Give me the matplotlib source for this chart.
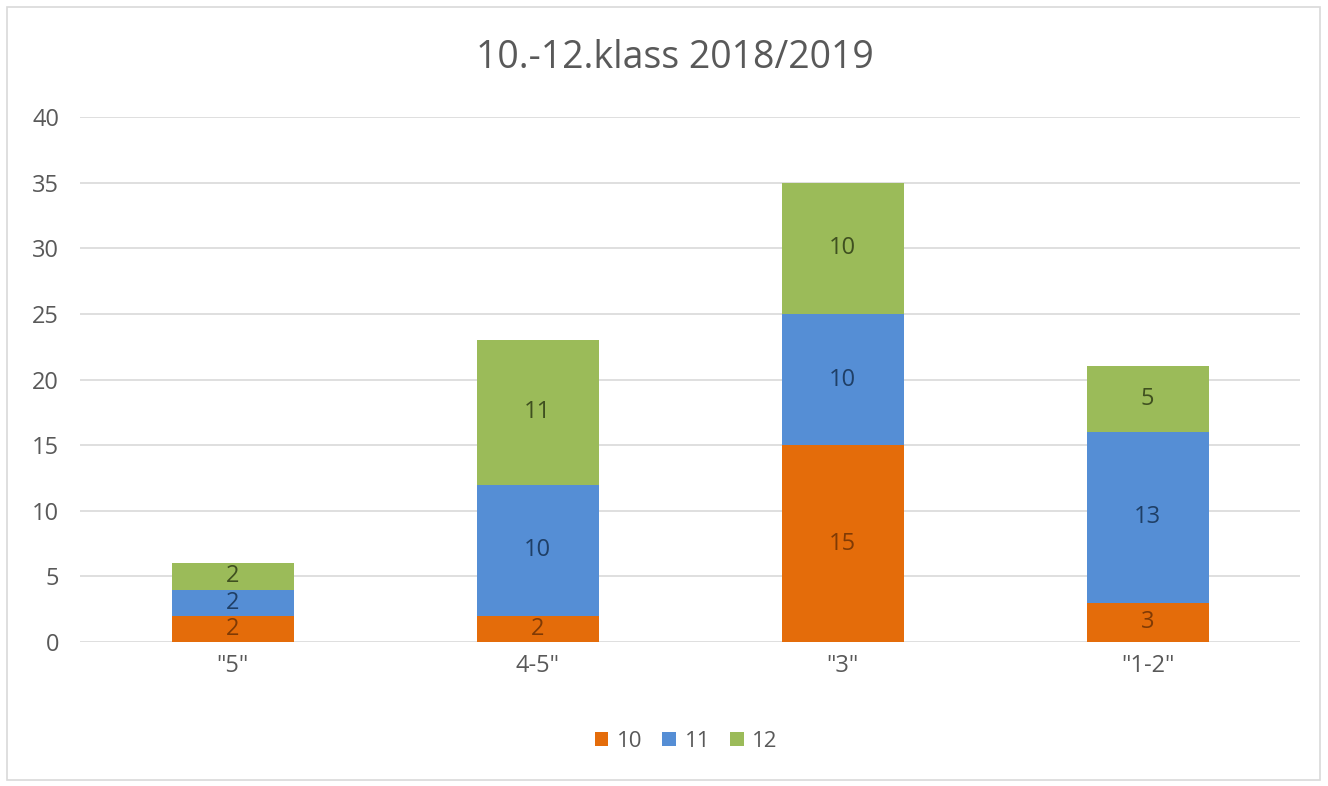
import matplotlib.pyplot as plt
import numpy as np
from matplotlib.patches import Rectangle

plt.rcParams['font.family'] = ['Open Sans', 'DejaVu Sans']

categories = ['"5"', '4-5"', '"3"', '"1-2"']
series_names = ['10', '11', '12']
vals_10 = [2, 2, 15, 3]
vals_11 = [2, 10, 10, 13]
vals_12 = [2, 11, 10, 5]

colors = ['#E46C0A', '#558ED5', '#9BBB59']
label_colors = ['#7F3A05', '#1F3F66', '#3F5020']
grey = '#595959'

fig = plt.figure(figsize=(13.28, 7.86), dpi=100)
# thin frame round the whole chart
fig.patches.append(Rectangle((7 / 1328, 6 / 786), 1313 / 1328, 773 / 786,
                             transform=fig.transFigure, fill=False,
                             edgecolor='#D9D9D9', linewidth=1.2))

ax = fig.add_axes([80 / 1328, 1 - 642 / 786, (1300 - 80) / 1328, (642 - 117) / 786])

x = np.arange(len(categories))
bottom = np.zeros(len(categories))
for name, vals, c, lc in zip(series_names, [vals_10, vals_11, vals_12], colors, label_colors):
    bars = ax.bar(x, vals, width=0.4, bottom=bottom, color=c, label=name, zorder=3)
    ax.bar_label(bars, labels=[str(v) for v in vals], label_type='center',
                 color=lc, fontsize=17)
    bottom += np.array(vals)

ax.set_xlim(-0.5, len(categories) - 0.5)
ax.set_ylim(0, 40)
ax.set_yticks(range(0, 41, 5))
ax.yaxis.grid(True, color='#D9D9D9', linewidth=1.2, zorder=0)
ax.set_axisbelow(True)
for s in ax.spines.values():
    s.set_visible(False)
ax.tick_params(axis='both', length=0, colors=grey, labelsize=17)
ax.tick_params(axis='y', pad=15)
ax.tick_params(axis='x', pad=9)
ax.set_xticks(x)
ax.set_xticklabels(categories)

fig.text(0.508, 1 - 58 / 786, '10.-12.klass 2018/2019', ha='center', va='center',
         fontsize=27, color=grey)

ax.legend(loc='center', bbox_to_anchor=(0.497, -0.19), ncol=3, frameon=False,
          fontsize=16, labelcolor=grey, handlelength=0.6, handleheight=0.6,
          handletextpad=0.4, columnspacing=0.9)

fig.savefig('out.png', dpi=100)
